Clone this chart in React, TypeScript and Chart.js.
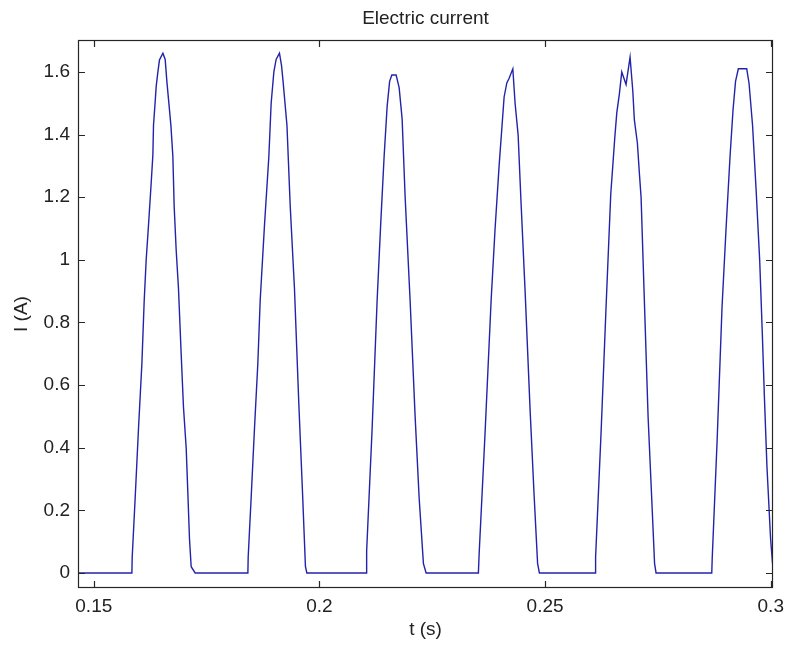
import React, { useEffect, useRef } from 'react';
import { Chart, registerables } from 'chart.js';

Chart.register(...registerables);

// ---- Data (time in seconds, current in amperes) ----
const timeS: number[] = [
  0.1465,
  // pulse 1
  0.15844, 0.15851, 0.15917, 0.1599, 0.16066, 0.16117, 0.16161, 0.16212, 0.16265, 0.16309, 0.16323, 0.1636,
  0.16382, 0.1642, 0.16455, 0.16531, 0.16582, 0.16619, 0.1667, 0.16708, 0.16752, 0.16781, 0.16826, 0.16876,
  0.16936, 0.16987, 0.17047, 0.17083, 0.1712, 0.17158, 0.17246,
  // pulse 2
  0.18414, 0.18421, 0.1849, 0.1856, 0.18635, 0.18687, 0.18782, 0.18879, 0.1893, 0.1899, 0.1904, 0.19114,
  0.1916, 0.19194, 0.1928, 0.19353, 0.19446, 0.19546, 0.19624, 0.1969, 0.19721,
  // pulse 3
  0.21035, 0.21046, 0.21167, 0.21278, 0.21356, 0.21433, 0.215, 0.21555, 0.21604, 0.21699, 0.21766, 0.21832,
  0.21899, 0.22009, 0.2212, 0.22209, 0.22304, 0.22364,
  // pulse 4
  0.23522, 0.23538, 0.23671, 0.23804, 0.23892, 0.23981, 0.24092, 0.24152, 0.24203, 0.24285, 0.24335, 0.24402,
  0.24468, 0.24557, 0.24668, 0.24756, 0.24834, 0.24874,
  // pulse 5
  0.26108, 0.26119, 0.26241, 0.26351, 0.26455, 0.265, 0.26544, 0.26589, 0.26646, 0.26699, 0.26794, 0.26883,
  0.26943, 0.26978, 0.27045, 0.27089, 0.27127, 0.27193, 0.27282, 0.27359, 0.27426, 0.27459,
  // pulse 6
  0.28693, 0.28704, 0.28811, 0.28921, 0.2901, 0.29098, 0.29165, 0.2922, 0.29282, 0.29468, 0.29519, 0.29597,
  0.29677, 0.29756, 0.29812, 0.2986, 0.29916, 0.29996, 0.3004,
];

const currentA: number[] = [
  0,
  // pulse 1
  0, 0.05, 0.24, 0.46, 0.67, 0.87, 1.0, 1.11, 1.23, 1.335, 1.43, 1.505,
  1.553, 1.6, 1.638, 1.66, 1.64, 1.57, 1.49, 1.43, 1.33, 1.17, 1.03, 0.91,
  0.7, 0.53, 0.4, 0.26, 0.11, 0.02, 0,
  // pulse 2
  0, 0.05, 0.25, 0.46, 0.67, 0.87, 1.11, 1.33, 1.5, 1.6, 1.64, 1.66,
  1.62, 1.57, 1.43, 1.17, 0.91, 0.53, 0.26, 0.02, 0,
  // pulse 3
  0, 0.07, 0.46, 0.87, 1.11, 1.33, 1.49, 1.57, 1.59, 1.59, 1.55, 1.45,
  1.2, 0.87, 0.5, 0.24, 0.03, 0,
  // pulse 4
  0, 0.06, 0.45, 0.87, 1.1, 1.3, 1.52, 1.565, 1.58, 1.61, 1.5, 1.4,
  1.18, 0.9, 0.52, 0.25, 0.03, 0,
  // pulse 5
  0, 0.05, 0.45, 0.85, 1.21, 1.3, 1.39, 1.47, 1.53, 1.6, 1.56, 1.647,
  1.54, 1.447, 1.373, 1.277, 1.2, 0.9, 0.5, 0.25, 0.03, 0,
  // pulse 6
  0, 0.05, 0.42, 0.85, 1.1, 1.33, 1.48, 1.57, 1.61, 1.61, 1.564, 1.43,
  1.22, 0.995, 0.77, 0.56, 0.34, 0.11, 0.03,
];

const xTickValues: number[] = [0.15, 0.2, 0.25, 0.3];
const xTickLabels: string[] = ['0.15', '0.2', '0.25', '0.3'];
const yTickValues: number[] = [0, 0.2, 0.4, 0.6, 0.8, 1, 1.2, 1.4, 1.6];
const yTickLabels: string[] = ['0', '0.2', '0.4', '0.6', '0.8', '1', '1.2', '1.4', '1.6'];

const chartTitle = 'Electric current';
const xAxisTitle = 't (s)';
const yAxisTitle = 'I (A)';

const FONT_FAMILY = '"Liberation Sans", Arial, Helvetica, sans-serif';
const FONT_SIZE = 19;
const TEXT_COLOR = '#222222';
const AXIS_COLOR = '#262626';
const LINE_COLOR = '#2323aa';

export default function App() {
  const canvasRef = useRef<HTMLCanvasElement | null>(null);

  useEffect(() => {
    document.body.style.margin = '0';
    const canvas = canvasRef.current;
    if (!canvas) return;

    const boxPlugin = {
      id: 'matlabBox',
      afterDraw(chart: any) {
        const { ctx, chartArea: a, scales } = chart;
        const xs = scales.x;
        const ys = scales.y;
        const tick = 7;
        ctx.save();
        ctx.strokeStyle = AXIS_COLOR;
        ctx.lineWidth = 1.2;
        ctx.strokeRect(a.left + 0.5, a.top + 0.5, a.right - a.left - 1, a.bottom - a.top - 1);
        ctx.beginPath();
        xTickValues.forEach((v) => {
          const px = Math.round(xs.getPixelForValue(v)) + 0.5;
          ctx.moveTo(px, a.bottom);
          ctx.lineTo(px, a.bottom - tick);
          ctx.moveTo(px, a.top);
          ctx.lineTo(px, a.top + tick);
        });
        yTickValues.forEach((v) => {
          const py = Math.round(ys.getPixelForValue(v)) + 0.5;
          ctx.moveTo(a.left, py);
          ctx.lineTo(a.left + tick, py);
          ctx.moveTo(a.right, py);
          ctx.lineTo(a.right - tick, py);
        });
        ctx.stroke();
        // chart title centred over the plot area
        ctx.fillStyle = TEXT_COLOR;
        ctx.font = `${FONT_SIZE}px ${FONT_FAMILY}`;
        ctx.textAlign = 'center';
        ctx.textBaseline = 'middle';
        ctx.fillText(chartTitle, (a.left + a.right) / 2, 19);
        ctx.restore();
      },
    };

    const chart = new Chart(canvas, {
      type: 'line',
      data: {
        datasets: [
          {
            label: 'I',
            data: timeS.map((t, i) => ({ x: t, y: currentA[i] })),
            borderColor: LINE_COLOR,
            borderWidth: 1.4,
            pointRadius: 0,
            tension: 0,
            fill: false,
          },
        ],
      },
      options: {
        responsive: false,
        animation: false,
        events: [],
        layout: { padding: { top: 40, right: 12, bottom: 0, left: 0 } },
        plugins: {
          legend: { display: false },
          title: { display: false },
          tooltip: { enabled: false },
        },
        scales: {
          x: {
            type: 'linear',
            min: 0.1465,
            max: 0.3005,
            grid: { display: false, drawTicks: false },
            border: { display: false },
            afterBuildTicks: (scale: any) => {
              scale.ticks = xTickValues.map((v) => ({ value: v }));
            },
            afterFit: (scale: any) => {
              scale.height = 60;
              scale.paddingLeft = 0;
              scale.paddingRight = 0;
            },
            ticks: {
              autoSkip: false,
              maxRotation: 0,
              padding: 7,
              color: TEXT_COLOR,
              font: { family: FONT_FAMILY, size: FONT_SIZE },
              callback: (_v: any, i: number) => xTickLabels[i],
            },
            title: {
              display: true,
              text: xAxisTitle,
              color: TEXT_COLOR,
              font: { family: FONT_FAMILY, size: FONT_SIZE },
              padding: { top: 0, bottom: 7 },
            },
          },
          y: {
            type: 'linear',
            min: -0.048,
            max: 1.702,
            grid: { display: false, drawTicks: false },
            border: { display: false },
            afterBuildTicks: (scale: any) => {
              scale.ticks = yTickValues.map((v) => ({ value: v }));
            },
            afterFit: (scale: any) => {
              scale.width = 78;
              scale.paddingTop = 0;
              scale.paddingBottom = 0;
            },
            ticks: {
              autoSkip: false,
              padding: 8,
              color: TEXT_COLOR,
              font: { family: FONT_FAMILY, size: FONT_SIZE },
              callback: (_v: any, i: number) => yTickLabels[i],
            },
            title: {
              display: true,
              text: yAxisTitle,
              color: TEXT_COLOR,
              font: { family: FONT_FAMILY, size: FONT_SIZE },
              padding: { top: 10, bottom: 0 },
            },
          },
        },
      },
      plugins: [boxPlugin],
    });

    return () => {
      chart.destroy();
    };
  }, []);

  return (
    <div style={{ width: 785, height: 648, background: '#ffffff' }}>
      <canvas ref={canvasRef} width={785} height={648} style={{ display: 'block' }} />
    </div>
  );
}
